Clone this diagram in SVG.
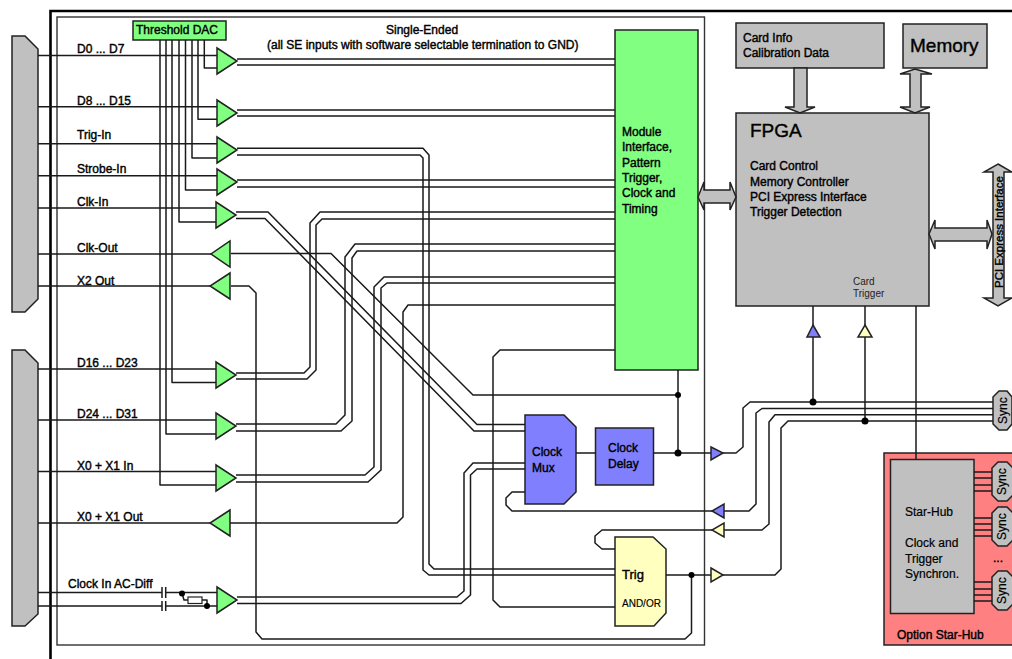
<svg xmlns="http://www.w3.org/2000/svg" width="1012" height="659" viewBox="0 0 1012 659">
<style>
text{font-family:"Liberation Sans",Arial,sans-serif;font-size:12px;fill:#000;stroke:#000;stroke-width:.4}
.n{stroke:#222;stroke-width:1.5;stroke-linejoin:miter}
.g{fill:#80ff80}.s{fill:#c0c0c0}.b{fill:#8080ff}.y{fill:#ffffc0}.p{fill:#ff8080}
.w{fill:none;stroke:#1a1a1a;stroke-width:1.5;stroke-linejoin:round}
.d{fill:#000;stroke:none}
</style>
<rect width="1012" height="659" fill="#fff"/>
<path d="M1012 11H50.5V659" fill="none" stroke="#000" stroke-width="2.6"/>
<rect x="57" y="17" width="647.5" height="628" fill="none" stroke="#333" stroke-width="1.4"/>
<g id="conn-top"><polygon class="n s" points="12,36 25,36 38,49 38,299 25,312 12,312"/></g>
<g id="conn-bottom"><polygon class="n s" points="12,350 25,350 38,363 38,614 25,626 12,626"/></g>
<g id="threshold-dac"><rect class="n g" x="133" y="21" width="93" height="19"/><text x="136" y="34">Threshold DAC</text></g>
<text x="386" y="34">Single-Ended</text>
<text x="267" y="49">(all SE inputs with software selectable termination to GND)</text>
<g id="labels">
<text x="77" y="53">D0 ... D7</text><text x="77" y="105">D8 ... D15</text><text x="77" y="139">Trig-In</text><text x="77" y="173">Strobe-In</text><text x="77" y="206">Clk-In</text><text x="77" y="252">Clk-Out</text><text x="77" y="285">X2 Out</text><text x="77" y="367">D16 ... D23</text><text x="77" y="418">D24 ... D31</text><text x="77" y="470">X0 + X1 In</text><text x="77" y="521">X0 + X1 Out</text><text x="68" y="588">Clock In AC-Diff</text>
</g>
<g id="module"><rect class="n g" x="615" y="30" width="83" height="340"/>
<text x="622" y="136">Module</text><text x="622" y="151">Interface,</text><text x="622" y="167">Pattern</text><text x="622" y="182">Trigger,</text><text x="622" y="197">Clock and</text><text x="622" y="213">Timing</text></g>
<g id="card-info"><rect class="n s" x="736" y="23" width="148" height="45"/><text x="743" y="42">Card Info</text><text x="743" y="57">Calibration Data</text></g>
<g id="memory"><rect class="n s" x="903" y="24" width="84" height="44"/><text x="910" y="52" style="font-size:19px">Memory</text></g>
<g id="fpga"><rect class="n s" x="736" y="113" width="193" height="193"/>
<text x="750" y="137" style="font-size:19px">FPGA</text><text x="750" y="170">Card Control</text><text x="750" y="186">Memory Controller</text><text x="750" y="201">PCI Express Interface</text><text x="750" y="216">Trigger Detection</text>
<text x="853" y="285" style="font-size:10px;stroke:none;fill:#222">Card</text><text x="853" y="297" style="font-size:10px;stroke:none;fill:#222">Trigger</text></g>
<g id="clock-mux"><polygon class="n b" points="525,415 564,415 576,427 576,492 564,504 525,504"/><text x="532" y="456">Clock</text><text x="532" y="472">Mux</text></g>
<g id="clock-delay"><rect class="n b" x="595.5" y="428" width="58" height="57"/><text x="608" y="452">Clock</text><text x="608" y="468">Delay</text></g>
<g id="trig"><polygon class="n y" points="615,537 653,537 666,549 666,613 654,626 615,626"/><text x="622" y="579" style="font-size:13px">Trig</text><text x="622" y="607" style="font-size:10px;stroke-width:.15">AND/OR</text></g>
<g id="star-hub"><rect class="n p" x="884" y="453" width="130" height="192"/><text x="897" y="639">Option Star-Hub</text>
<rect class="n s" x="890.5" y="459.5" width="83.5" height="154"/><text x="905" y="516" style="stroke-width:.2">Star-Hub</text><text x="905" y="547" style="stroke-width:.2">Clock and</text><text x="905" y="563" style="stroke-width:.2">Trigger</text><text x="905" y="578" style="stroke-width:.2">Synchron.</text><text x="993" y="562">...</text></g>
<g id="connectors">
<path class="w" d="M160 40V485H216M166 40V434H216M172 40V382.500H216M179 40V222H216M185.500 40V190H217M192 40V158H217M198 40V119.300H217M204.300 40V68H217"/>
<path class="w" d="M38 55.500H217M38 106.700H217M38 143.700H217M38 175.700H217M38 208H216M38 254H211M38 286H210M38 369H216M38 420H216M38 471.500H216M38 523H210"/>
<path class="w" d="M237 59H615M237 65H615M237 110H615M237 116H615M237 148.300H423L429 155V564L434 569H615M237 155H420L423 158V570L429 575H615M237 180H615M237 187H615"/>
<path class="w" d="M236 212H268L477 424.500H525M236 218.500H265L474 431H525"/>
<path class="w" d="M231 253.500H331L473 395H678"/>
<path class="w" d="M231 286H249L256 293V632L262 639H685L691.500 633V575"/>
<path class="w" d="M236 373H304L310 367V223L320 212H615M236 379H307L316 370V225L322 219H615"/>
<path class="w" d="M236 424H336L345 415V257L355 244H615M236 431H341L352 421V258L357 251H615"/>
<path class="w" d="M236 475H365L374 467V287L384 277H615M236 482H368L381 470V288L387 283H615"/>
<path class="w" d="M230 523H397L403 517V312L408 305H615"/>
<path class="w" d="M237 597H457L464 591V473L473 463H525M237 603.500H461L470.500 595V475L477 469H525"/>
<path class="w" d="M38 592.500H162M165.700 592.500H217M38 606H162M165.700 606H217M162 587V598M165.700 587V598M162 601V611M165.700 601V611"/>
<path class="w" d="M182 593L184 600H188M202 600H207V606"/>
<rect x="188" y="597" width="14" height="6.500" fill="#fff" stroke="#222" stroke-width="1.2"/>
<circle class="d" cx="182" cy="593.500" r="3"/><circle class="d" cx="207" cy="606" r="3"/>
<path class="w" d="M615 350H500L493 357V600L500 607H615"/>
<path class="w" d="M678 370V453M576 453H595.500M653.500 453H711M723 453H736L743 447V408L750 402H993"/>
<path class="w" d="M712 511H512L506 505V498L512 492H525M724 511H749L756 504V413L762 408.500H993"/>
<path class="w" d="M712 530H602L595 536V543L602 549H615M724 530H762L769 524V422L775 414.700H993"/>
<path class="w" d="M666 575H711M723 575H775L781 569V428L788 421H993"/>
<path class="w" d="M813 306V325M813 337V402M865 306V325M865 337V421M916 306V459.500"/>
<path class="w" d="M974 472H992M974 478H992M974 485H992M974 491H992M974 518H992M974 524H992M974 530H992M974 536H992M974 582H992M974 589H992M974 595H992M974 601H992"/>
<circle class="d" cx="678" cy="395" r="3"/><circle class="d" cx="678" cy="453" r="3.500"/><circle class="d" cx="691.500" cy="575" r="3"/><circle class="d" cx="813" cy="402" r="3.500"/><circle class="d" cx="865" cy="421" r="3.500"/>
</g>
<g id="amps">
<polygon class="n g" points="217,48 237,61 217,74"/><polygon class="n g" points="217,100 237,113 217,126"/><polygon class="n g" points="217,137 237,150 217,163"/><polygon class="n g" points="217,169 237,182 217,195"/><polygon class="n g" points="216,202 236,215 216,228"/>
<polygon class="n g" points="230,241 230,267 211,254"/><polygon class="n g" points="230,273 230,299 210,286"/>
<polygon class="n g" points="216,362 236,375 216,388"/><polygon class="n g" points="216,413 236,426 216,439"/><polygon class="n g" points="216,465 236,478 216,491"/>
<polygon class="n g" points="230,510 230,536 210,523"/><polygon class="n g" points="217,587 237,600 217,613"/>
<polygon class="n b" points="711,447 723,453 711,460"/><polygon class="n b" points="724,504 724,518 712,511"/>
<polygon class="n y" points="724,523 724,537 712,530"/><polygon class="n y" points="711,568 723,575 711,582"/>
<polygon class="n b" points="813,325 820,337 807,337"/><polygon class="n y" points="865,325 872,337 858,337"/>
</g>
<g id="bus-arrows">
<polygon class="n s" points="794,68 807,68 807,107 815,107 800,113 785,107 794,107"/>
<polygon class="n s" points="915,69 932,74 921,74 921,107 930,107 915,113 900,107 910,107 910,74 900,74"/>
<polygon class="n s" points="698,197 704,182 704,190 730,190 730,182 736,197 730,210 730,203 704,203 704,210"/>
<polygon class="n s" points="929,234 935,220 935,228 987,228 987,220 992,234 987,249 987,241 935,241 935,249"/>
<polygon class="n s" points="998,164 1012,172 1004,172 1004,298 1012,298 998,306 984,298 993,298 993,172 984,172"/>
<text transform="translate(1003,288) rotate(-90)" style="font-size:11.500px">PCI Express Interface</text>
</g>
<g id="sync-main"><polygon class="n s" points="993,397 999,391 1007,391 1012,397 1012,424 1007,430 999,430 993,424"/><text transform="translate(1007,424) rotate(-90)" style="stroke-width:.2">Sync</text></g>
<g id="sync-1"><polygon class="n s" points="992,468 998,462 1007,462 1013,468 1013,495 1007,501 998,501 992,495"/><text transform="translate(1006,495) rotate(-90)" style="stroke-width:.2">Sync</text></g>
<g id="sync-2"><polygon class="n s" points="992,513 998,507 1007,507 1013,513 1013,540 1007,546 998,546 992,540"/><text transform="translate(1006,540) rotate(-90)" style="stroke-width:.2">Sync</text></g>
<g id="sync-3"><polygon class="n s" points="992,577 998,571 1007,571 1013,577 1013,604 1007,610 998,610 992,604"/><text transform="translate(1006,604) rotate(-90)" style="stroke-width:.2">Sync</text></g>
</svg>
